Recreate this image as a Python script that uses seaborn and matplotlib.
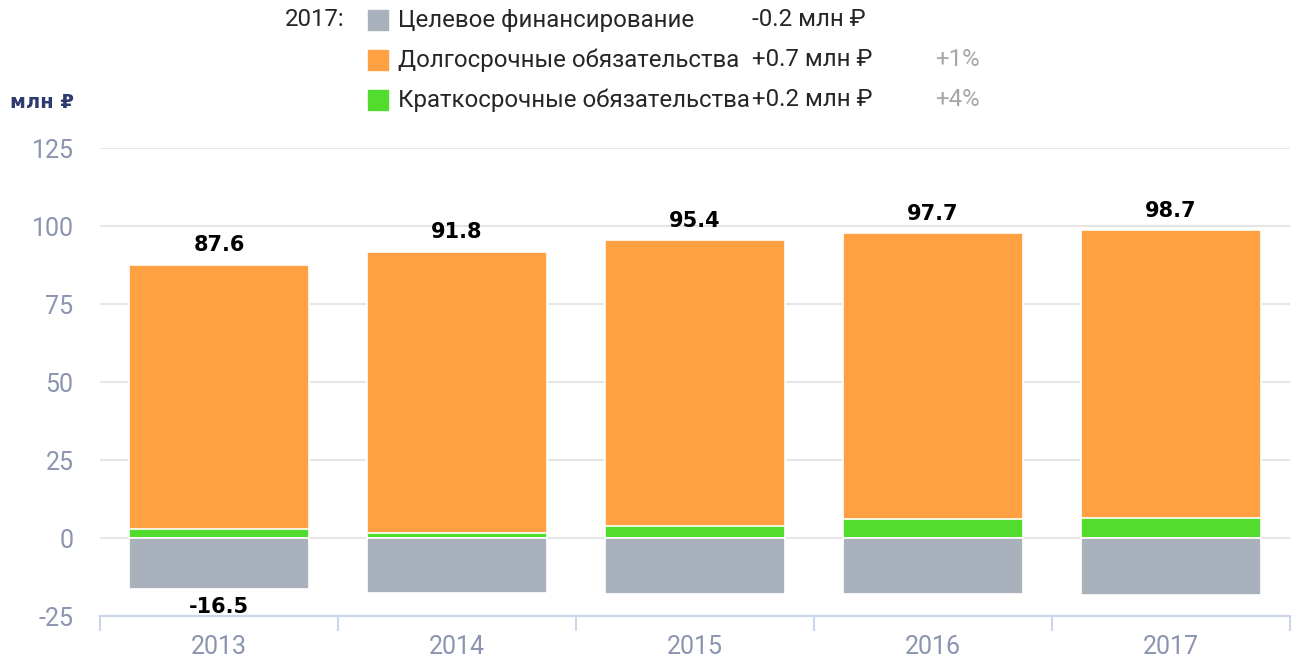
import matplotlib
matplotlib.use("Agg")
import matplotlib.pyplot as plt
import seaborn as sns
from matplotlib.patches import Rectangle

years = ["2013", "2014", "2015", "2016", "2017"]
short_term = [2.8, 1.5, 3.8, 6.1, 6.3]
long_term = [84.8, 90.3, 91.6, 91.6, 92.4]
target_fin = [-16.5, -17.5, -18.0, -18.0, -18.2]
totals = [87.6, 91.8, 95.4, 97.7, 98.7]
neg_labels = ["-16.5", "", "", "", ""]

legend_names = ["Целевое финансирование", "Долгосрочные обязательства", "Краткосрочные обязательства"]
legend_deltas = ["-0.2 млн ₽", "+0.7 млн ₽", "+0.2 млн ₽"]
legend_pct = ["", "+1%", "+4%"]

c_gray = "#a9b2bc"
c_orange = "#ffa042"
c_green = "#52dc2e"
colors = [c_gray, c_orange, c_green]
tick_col = "#8c95b0"
axis_col = "#ccd6eb"

sns.set_style("white")
plt.rcParams["font.family"] = ["Roboto", "DejaVu Sans"]
plt.rcParams["axes.unicode_minus"] = False
bold_font = ["DejaVu Sans"]

W, H = 1294, 662
fig = plt.figure(figsize=(W / 100, H / 100), dpi=100)
ax = fig.add_axes([100 / W, 46 / H, 1190 / W, 468 / H])

# stacked: orange drawn to full height, green over its lower part
stack_top = [s + l for s, l in zip(short_term, long_term)]
bar_kw = dict(width=0.76, saturation=1, errorbar=None, edgecolor="white", linewidth=1.2, ax=ax)
sns.barplot(x=years, y=stack_top, color=c_orange, **bar_kw)
sns.barplot(x=years, y=short_term, color=c_green, **bar_kw)
sns.barplot(x=years, y=target_fin, color=c_gray, **bar_kw)

for i, t in enumerate(totals):
    ax.text(i, stack_top[i] + 3, f"{t}", ha="center", va="bottom", family=bold_font,
            fontsize=15, fontweight="bold", color="black")
for i, lab in enumerate(neg_labels):
    if lab:
        ax.text(i, target_fin[i] - 2.5, lab, ha="center", va="top", family=bold_font,
                fontsize=15, fontweight="bold", color="black")

ax.set_ylim(-25, 125)
ax.set_xlim(-0.5, 4.5)
ax.set_yticks(range(-25, 126, 25))
ax.yaxis.grid(True, color="#e6e6e6", linewidth=1.5)
ax.set_axisbelow(True)
for s in ["top", "right", "left"]:
    ax.spines[s].set_visible(False)
ax.spines["bottom"].set_color(axis_col)
ax.spines["bottom"].set_linewidth(1.5)
ax.set_xticks(range(5))
ax.set_xticks([i - 0.5 for i in range(6)], minor=True)
ax.tick_params(axis="x", which="major", bottom=False, pad=10, labelsize=18, labelcolor=tick_col)
ax.tick_params(axis="x", which="minor", bottom=True, length=11, width=1.5, color=axis_col)
ax.tick_params(axis="y", length=0, pad=19, labelsize=18, labelcolor=tick_col)
ax.set_xlabel("")
ax.set_ylabel("")

fig.text(10 / W, 1 - 103 / H, "млн ₽", fontsize=14, fontweight="bold", family=bold_font,
         color="#2e3a6e", va="center", ha="left")

# custom legend block
fs = 17.3
fig.text(345 / W, 1 - 20 / H, "2017:", fontsize=fs, ha="right", va="center")
rows_y = [20, 60, 100]
for k, y in enumerate(rows_y):
    fig.patches.append(Rectangle((368 / W, 1 - (y + 10) / H), 20 / W, 20 / H,
                                 transform=fig.transFigure, color=colors[k]))
    fig.text(398 / W, 1 - y / H, legend_names[k], fontsize=fs, va="center", ha="left")
    fig.text(752 / W, 1 - y / H, legend_deltas[k], fontsize=fs, va="center", ha="left")
    if legend_pct[k]:
        fig.text(980 / W, 1 - y / H, legend_pct[k], fontsize=fs, va="center",
                 ha="right", color="#a6a6a6")

fig.savefig("out.png", dpi=100)
